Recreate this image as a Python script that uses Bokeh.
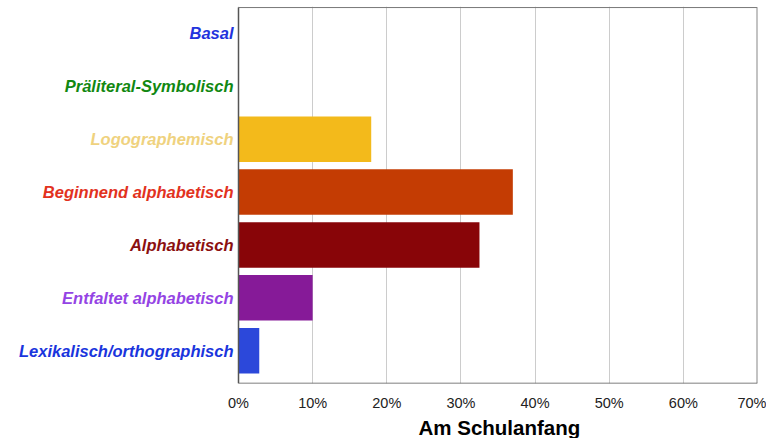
from bokeh.plotting import figure
from bokeh.models import FixedTicker, PrintfTickFormatter, Range1d, ColumnDataSource, Title
from bokeh.core.properties import value
from bokeh.embed import file_html
from bokeh.resources import INLINE
import numpy as np

categories = ["Basal", "Präliteral-Symbolisch", "Logographemisch", "Beginnend alphabetisch",
              "Alphabetisch", "Entfaltet alphabetisch", "Lexikalisch/orthographisch"]
values = [0, 0, 17.9, 37.0, 32.5, 10.0, 2.8]
bar_colors = ["#2233DD", "#118811", "#F3BA1B", "#C43C03", "#880508", "#861A98", "#2C48DA"]
label_colors = ["#2233DD", "#118811", "#EFD27E", "#E2321E", "#8B1010", "#9444E4", "#1A35DD"]
x_ticks = [0, 10, 20, 30, 40, 50, 60, 70]
x_title = "Am Schulanfang"

pos = np.arange(len(categories))[::-1].astype(float)
y0, y1 = -0.62, 6.49
xmin, xmax = x_ticks[0], x_ticks[-1]
label_px = 238
frame_px = 757 - label_px
x_start = xmin - (xmax - xmin) * label_px / frame_px

p = figure(width=766, height=438, output_backend="svg", toolbar_location=None,
           x_range=Range1d(x_start, xmax), y_range=Range1d(y0, y1 + 0.02),
           min_border_left=0, min_border_right=766 - 757, min_border_top=6, min_border_bottom=0)

src = ColumnDataSource(dict(y=pos, right=values, color=bar_colors))
p.hbar(y="y", left=0, right="right", height=0.86, fill_color="color", line_color=None, source=src)

# frame lines
p.segment(x0=[xmin], y0=[y1], x1=[xmax], y1=[y1], line_color="#777777", line_width=1)
p.segment(x0=[xmax], y0=[y0], x1=[xmax], y1=[y1], line_color="#888888", line_width=2)
p.segment(x0=[xmin], y0=[y0], x1=[xmax], y1=[y0], line_color="#555555", line_width=1.5)
p.segment(x0=[xmin], y0=[y0], x1=[xmin], y1=[y1], line_color="#555555", line_width=1.5)

lsrc = ColumnDataSource(dict(x=[xmin] * len(categories), y=pos, text=categories, color=label_colors))
p.text(x="x", y="y", text="text", source=lsrc, x_offset=-5, text_align="right",
       text_baseline="middle", text_color="color", text_font=value("Liberation Sans"),
       text_font_style="bold italic", text_font_size="16.5px")

ax = p.xaxis
ax.ticker = FixedTicker(ticks=x_ticks)
ax.formatter = PrintfTickFormatter(format="%d%%")
ax.major_tick_line_color = None
ax.minor_tick_line_color = None
ax.major_label_text_font = "Liberation Sans"
ax.major_label_text_font_size = "14.5px"
ax.major_label_text_color = "#222222"
ax.major_label_standoff = 5
ax.axis_line_color = None

p.add_layout(Title(text=x_title, align="left", offset=418, text_font="Liberation Sans",
                   text_font_style="bold", text_font_size="20.5px", text_color="#000000",
                   standoff=0), "below")

p.yaxis.visible = False
p.ygrid.grid_line_color = None
p.xgrid.grid_line_color = "#CCCCCC"
p.outline_line_color = None

open("out.html", "w").write(file_html(p, INLINE))
